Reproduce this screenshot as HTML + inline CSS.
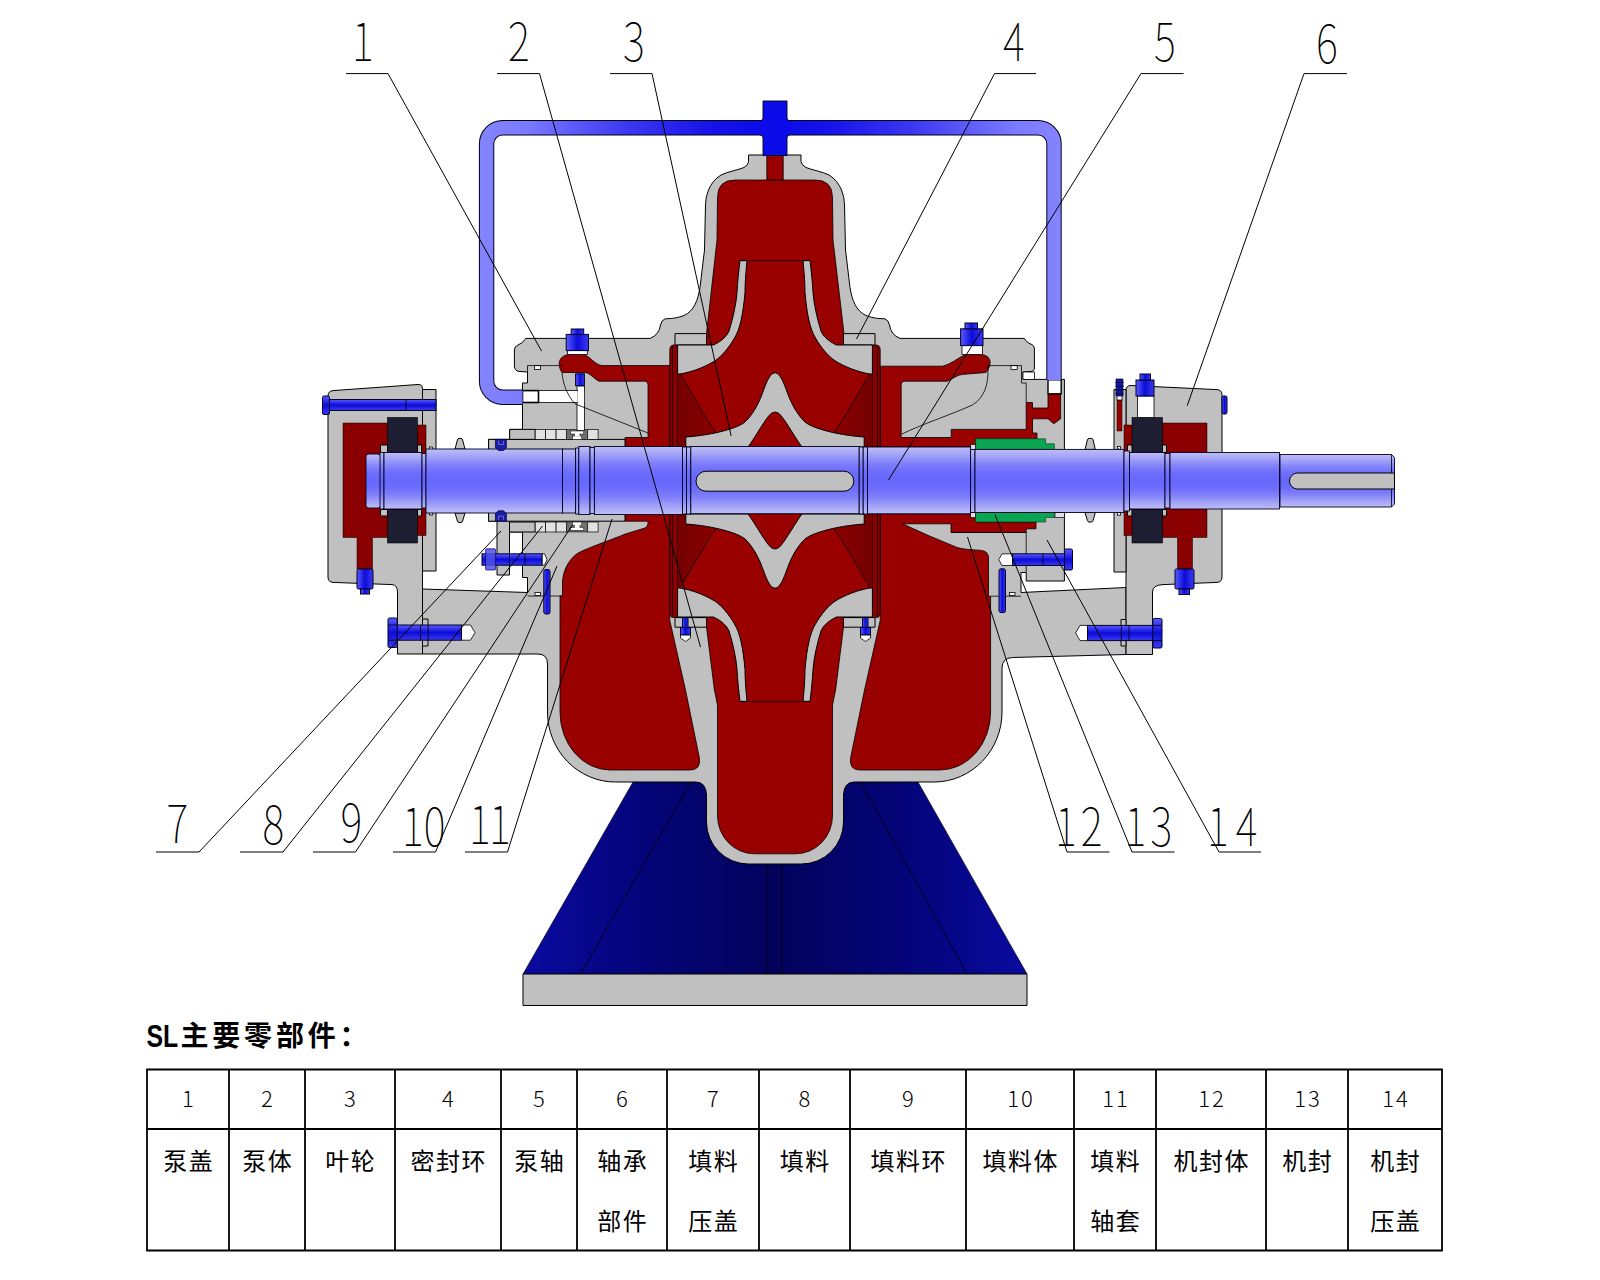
<!DOCTYPE html>
<html lang="zh-CN">
<head>
<meta charset="utf-8">
<title>SL主要零部件</title>
<style>
html,body{margin:0;padding:0;background:#fff;}
body{width:1600px;height:1280px;position:relative;overflow:hidden;font-family:"Liberation Sans","Noto Sans CJK SC",sans-serif;}
svg{position:absolute;left:0;top:0;display:block;}
.g{fill:#c0c0c0;stroke:#000;stroke-width:1;stroke-linejoin:round}
.r{fill:#990000;stroke:#000;stroke-width:.8;stroke-linejoin:round}
.dr{fill:#8e0000;stroke:#000;stroke-width:.8}
.w{fill:#fff;stroke:#000;stroke-width:.8}
.lg{fill:#e2e2e2;stroke:#000;stroke-width:.7}
.k{fill:#1e1e32;stroke:#000;stroke-width:.6}
.b{fill:url(#bolt);stroke:#000028;stroke-width:1}
.bv{fill:url(#boltv);stroke:#000028;stroke-width:1}
.ln{fill:none;stroke:#000;stroke-width:.8}
.ld{fill:none;stroke:#000;stroke-width:1}
.num{font-family:"Noto Sans CJK SC","DejaVu Sans","Liberation Sans",sans-serif;font-weight:100;font-size:52px;fill:#000}
.tn{font-family:"Noto Sans CJK SC","Liberation Sans",sans-serif;font-weight:300;font-size:22px;fill:#000;text-anchor:middle;letter-spacing:2px}
.tc{font-family:"Liberation Sans","Noto Sans CJK SC",sans-serif;font-weight:400;font-size:24px;fill:#000;text-anchor:middle;letter-spacing:1.5px}
.tt{font-family:"Liberation Sans","Noto Sans CJK SC",sans-serif;font-weight:700;font-size:28px;fill:#000;letter-spacing:3.8px}
.tb{stroke:#000;stroke-width:1.8;fill:none}
</style>
</head>
<body>
<svg width="1600" height="1280" viewBox="0 0 1600 1280">
<defs>
<linearGradient id="shaft" x1="0" y1="0" x2="0" y2="1">
<stop offset="0" stop-color="#bebef6"/><stop offset="0.125" stop-color="#a0a0f8"/><stop offset="0.235" stop-color="#8282fa"/><stop offset="0.345" stop-color="#7070fc"/><stop offset="0.46" stop-color="#6868fc"/><stop offset="0.54" stop-color="#6868fc"/><stop offset="0.655" stop-color="#7070fc"/><stop offset="0.765" stop-color="#8282fa"/><stop offset="0.875" stop-color="#a0a0f8"/><stop offset="1" stop-color="#bebef6"/>
</linearGradient>
<linearGradient id="pipe" gradientUnits="userSpaceOnUse" x1="479" y1="0" x2="1061" y2="0">
<stop offset="0" stop-color="#8484ff"/><stop offset=".08" stop-color="#7a7aff"/><stop offset=".26" stop-color="#3a36f0"/><stop offset=".4" stop-color="#1612ea"/><stop offset=".48" stop-color="#0c0cea"/><stop offset=".52" stop-color="#0c0cea"/><stop offset=".6" stop-color="#1612ea"/><stop offset=".74" stop-color="#3a36f0"/><stop offset=".92" stop-color="#7a7aff"/><stop offset="1" stop-color="#8484ff"/>
</linearGradient>
<linearGradient id="base" gradientUnits="userSpaceOnUse" x1="523" y1="0" x2="1027" y2="0">
<stop offset="0" stop-color="#0a0aa0"/><stop offset=".25" stop-color="#040478"/><stop offset=".5" stop-color="#02025c"/><stop offset=".75" stop-color="#040478"/><stop offset="1" stop-color="#0a0aa0"/>
</linearGradient>
<linearGradient id="bolt" x1="0" y1="0" x2="0" y2="1">
<stop offset="0" stop-color="#5a5aff"/><stop offset=".5" stop-color="#0c0cd8"/><stop offset="1" stop-color="#3a3af0"/>
</linearGradient>
<linearGradient id="boltv" x1="0" y1="0" x2="1" y2="0">
<stop offset="0" stop-color="#5a5aff"/><stop offset=".5" stop-color="#0c0cd8"/><stop offset="1" stop-color="#3a3af0"/>
</linearGradient>
<linearGradient id="dred" x1="0" y1="0" x2="1" y2="0">
<stop offset="0" stop-color="#740000"/><stop offset="1" stop-color="#8c0000"/>
</linearGradient>
</defs>
<rect x="0" y="0" width="1600" height="1280" fill="#fff"/>

<!--BASE-->
<g id="basegrp">
<path d="M633 782 L918 782 L1027 974 L523 974 Z" fill="url(#base)" stroke="#000" stroke-width=".6"/>
<path class="ln" d="M690.8 782 L580.5 974 M860.5 782 L967 974 M767.8 864 V974 M781.8 864 V974" stroke-width=".7"/>
<rect class="g" x="523" y="974" width="504" height="31.5"/>
</g>

<!--PUMP-->
<g id="pump">
<!-- ===== grey silhouettes ===== -->
<!-- casing body + covers, upper & lower -->
<path class="g" d="M748.5 155 H801 V161.5 Q801.5 165 806 167.5 C812 170 822 171.5 829 175 C835 178.5 839 184 841.5 190 Q844.5 197 844.5 205 L845.5 250 L850 287.5 C852 300 856 311 866 315.5 C874 318.6 880 318.6 885 318.8 Q888.6 320.4 889.5 325 Q891 335 900 338.4
 H1024.4 Q1026 342 1030 343.8 Q1034.4 345 1034.4 349 V368 Q1034.4 371.5 1030 371.6 L1023 372 V379.4 H1064.4 V581 H1026.2 V572.5 H1021 V592.5 L1126 587.5 V654.5 L1012.5 657.5 Q1002 658 1002 668 V712 A68 70 0 0 1 934.5 782
 H854.4 Q844 782 843.5 795 V822 A42 42 0 0 1 801.5 864 H748.5 A42 42 0 0 1 706.5 822 V795 Q706 782 695.6 782 H615.5 A68 70 0 0 1 547.5 712 V664 Q547.5 654 538 654 H422.5 V589 L527.5 592.5 V577.5 H522.5 V532 H509.5 V575 H497 V521.2 H488.6 V439.4 H509.7 V429.4 H522.5 V383 H527.5 V372 L519 371.4 Q514.4 370.5 514.4 366.2 V350 Q514.4 346.4 518 345 Q523 343.4 525.6 338.4
 H650 Q659 335 660.5 325 Q661.4 320.4 665 318.8 C670 318.6 676 318.6 684 315.5 C694 311 698 300 700 287.5 L704.5 250 L705.5 205 Q705.5 197 708.5 190 C711 184 715 178.5 721 175 C728 171.5 738 170 744 167.5 Q748.5 165 748.5 161.5 Z"/>
<!-- ===== red volumes ===== -->
<!-- top volute + impeller zone upper -->
<path class="r" d="M735 180 H815 Q832.5 180 832.5 197.5 L833 240 L844 333.6 V345 H872.4 V447 H677.6 V345 H706.5 V333.6 L717 240 L717.5 197.5 Q717.5 180 735 180 Z"/>
<!-- top stem -->
<rect class="r" x="766.8" y="155" width="16.4" height="25" stroke-width="1.6"/>
<!-- lower: impeller zone + discharge -->
<path class="r" d="M677.6 513.7 H872.4 V617.6 H843.5 V627 L835.6 690 L832.5 705 V816 A37 38 0 0 1 795.5 853.8 H754.5 A37 38 0 0 1 717.5 816 V705 L714.4 690 L706.5 627 V617.6 H677.6 Z"/>
<!-- left suction chamber -->
<path class="r" d="M625 513.7 H669.8 V620.6 L685.5 690 L699.4 758 Q701 770 690 770 H610 A50 58 0 0 1 560 712 V596 H562.5 V582 C563 570 569 559 578 553 C590 547 608 541 626 533.800 L645 528 Q648 526.5 648 523 V521.2 H625 Z"/>
<!-- right suction chamber -->
<path class="r" d="M880.2 513.7 H975.6 V522 H1036 V528.8 H1026.2 V532.5 H951 V523.8 H902.5 L930 536.2 L957 547.4 Q962 549 968 549.4 L981 550.4 Q988.5 551 988.5 558 V596.2 H990.6 V712 A50.6 58 0 0 1 940 770 H860 Q849 770 850.6 758 L864.5 690 L880.2 620.6 Z"/>
<!-- upper-left passage in cover -->
<path class="r" d="M562 372.5 C556.5 364 559 355 570 354.4 H584 C592 358 594 364 602 365.6 H669.8 V447 H625 V437.5 H648 V384.5 Q648 381.2 644.5 381.2 H599 C593 378 590 373 585 372.5 Z"/>
<!-- upper-right passage in cover -->
<path class="r" d="M986 372.5 C992.5 364 992 355 980 354.4 H966 C957 358 952 364 942.5 366.2 H880.2 V447 H975.6 V438.8 H1037 V433 H1032.5 V418.8 H1048 L1053.8 423.8 L1060.6 418.8 V394 H1048 V408 H1032.5 V402.5 H1026.2 V429.4 H951.2 V437.5 H901.2 V384.5 Q901.2 381.2 904.7 381.2 H947.5 C954 378 957 375 962.5 374.4 Z"/>
<!-- ===== seal-ring strips (dark red) ===== -->
<path class="dr" d="M669.8 350 Q669.8 345 674 345 H677.6 V447 H669.8 Z M669.8 513.7 H677.6 V617.6 H674 Q669.8 617.6 669.8 613 Z M880.2 350 Q880.2 345 876 345 H872.4 V447 H880.2 Z M880.2 513.7 H872.4 V617.6 H876 Q880.2 617.6 880.2 613 Z"/>
<path class="ln" stroke-width=".7" d="M672.4 346 V447 M672.4 513.7 V616.5 M877.6 346 V447 M877.6 513.7 V616.5"/>
<!-- darker eye shading -->
<path id="eyesh" d="M677.6 374 H680 C688 386 704 416 716 433 V447 H677.6 Z" fill="url(#dred)"/>
<use href="#eyesh" transform="translate(1550 0) scale(-1 1)"/>
<use href="#eyesh" transform="translate(0 961.4) scale(1 -1)"/>
<use href="#eyesh" transform="translate(1550 961.4) scale(-1 -1)"/>
<!-- wear rings -->
<rect class="g" x="675" y="333.6" width="31.5" height="11.4"/>
<rect class="g" x="843.5" y="333.6" width="31.5" height="11.4"/>
<rect class="g" x="675" y="617.6" width="31.5" height="9.6"/>
<rect class="g" x="843.5" y="617.6" width="31.5" height="9.6"/>
<!-- ===== impeller ===== -->
<g id="imp">
<path id="shr" class="g" d="M740 260.6 L747 260.6 C745.6 275 745 285 745 292.5 C743 315 740 329 734.5 338 C729 347.5 722 356 715 360.8 C705 367 692 372 680 374 L677.6 374 V345 H713.5 C722 341 727 336 729 331 C733 318 736 305 737 292.5 C737.6 282 738.6 272 740 260.6 Z"/>
<use href="#shr" transform="translate(1550 0) scale(-1 1)"/>
<use href="#shr" transform="translate(0 962) scale(1 -1)"/>
<use href="#shr" transform="translate(1550 962) scale(-1 -1)"/>
<path class="ln" d="M740 260.6 H810 M740 701.4 H810" stroke-width="1"/>
<path id="hub" class="g" d="M685.8 447 V437 C700 436 714 433.6 724 430.8 C734 428 741 425.4 745 422 C752 415.5 757 406.5 760.8 397.5 C765 387 768.5 373.4 775 372.7 C781.5 373.4 785 387 789.200 397.5 C793 406.5 798 415.5 805 422 C809 425.400 816 428 826 430.8 C836 433.6 850 436 864.2 437 V447 H802 C796 439 787 423 781 415.5 Q775 408.5 769 415.5 C763 423 754 439 748 447 Z"/>
<use href="#hub" transform="translate(0 961) scale(1 -1)"/>
</g>
<!-- blade edge thin lines -->
<path class="ln" stroke-width=".8" d="M680 374 C688 386 704 416 716 433 M870 374 C862 386 846 416 834 433 M680 587.400 C688 575.4 704 545.4 716 528.4 M870 587.4 C862 575.4 846 545.4 834 528.4"/>
<!-- ===== bearing housings ===== -->
<g id="lbh">
<path class="g" d="M328 396 Q328 391 333 390.6 L418 384.5 Q422.5 384.4 422.5 388.5 V654 H397.5 V592 Q397.5 585 392 584.6 L333 582.4 Q328 582 328 577 Z"/>
<rect class="g" x="422.5" y="389.5" width="13.5" height="181.5"/>
<rect class="g" x="422.5" y="619" width="5.5" height="27"/>
<path d="M343 423 H387.5 V425 H426 V535.5 H387.5 V537.5 H372.5 V569 H357 V537.5 H343 Z" fill="#8a0000" stroke="#000" stroke-width=".5"/>
<rect class="k" x="387.5" y="417.5" width="30" height="35"/>
<rect class="k" x="387.5" y="509.5" width="30" height="33.5"/>
<path class="g" stroke-width=".5" d="M380.5 445 H387.5 V452.5 H380.5 Z M380.500 509.5 H387.5 V516 H380.5 Z M417.5 445 H421.5 V452.5 H417.5 Z M417.5 509.5 H421.5 V516 H417.5 Z"/>
<rect class="w" stroke-width=".5" x="429.5" y="447" width="3" height="2.6"/>
<rect class="w" stroke-width=".5" x="429.5" y="512.4" width="3" height="2.6"/>
</g>
<g id="rbh">
<path class="g" d="M1126 390.5 Q1126 385.500 1131 385.5 L1217 389.6 Q1222 390 1222 395 V577 Q1222 582 1217 582.4 L1163 584.6 Q1152.500 585 1152.5 592 V654.5 H1126 Z"/>
<rect class="g" x="1114" y="389.5" width="12" height="182.5"/>
<rect class="g" x="1121" y="619.5" width="5" height="26.5"/>
<path d="M1207 423 H1162.5 V425 H1124 V535.5 H1162.5 V537.5 H1177.5 V569 H1192.5 V537.5 H1207 Z" fill="#8a0000" stroke="#000" stroke-width=".5"/>
<rect class="k" x="1132" y="417.5" width="30.5" height="35"/>
<rect class="k" x="1132" y="509.5" width="30.5" height="33.5"/>
<path class="g" stroke-width=".5" d="M1162.500 445 H1166.5 V452.5 H1162.5 Z M1162.5 509.5 H1166.5 V516 H1162.5 Z M1127.5 445 H1132 V452.5 H1127.5 Z M1127.5 509.5 H1132 V516 H1127.5 Z"/>
<rect class="w" x="1137.5" y="396" width="16.5" height="21.5"/>
<rect class="w" stroke-width=".5" x="1117.5" y="446.5" width="3" height="2.6"/>
<rect class="w" stroke-width=".5" x="1117.5" y="512.6" width="3" height="2.6"/>
<path d="M1117 400 H1122 V431 H1117 Z" fill="#990000" stroke="#000" stroke-width=".5"/>
<rect class="w" stroke-width=".5" x="1117" y="395" width="5" height="5"/>
</g>
<!-- slingers -->
<path class="g" stroke-width=".8" d="M455 449 L457.4 440 Q457.800 438.4 459 438.4 H461 Q462.2 438.4 462.600 440 L465 449 Z M455 513 L457.400 521 Q457.8 522.5 459 522.5 H461 Q462.2 522.5 462.6 521 L465 513 Z M1085 449.4 L1087.4 440 Q1087.8 438.4 1089 438.4 H1091.5 Q1092.7 438.4 1093.100 440 L1095.3 449.4 Z M1085 512.5 L1087.4 520.5 Q1087.800 522 1089 522 H1091.5 Q1092.7 522 1093.1 520.5 L1095.3 512.5 Z"/>
<!-- ===== packing / sleeve / seal details ===== -->
<!-- sleeve -->
<rect class="g" x="488.600" y="439.4" width="136.4" height="10"/>
<rect class="g" x="488.6" y="512.5" width="136.4" height="8.7"/>
<!-- packing rows -->
<rect class="g" x="509.7" y="429.4" width="25.5" height="10"/>
<rect class="g" x="509.5" y="522" width="25.7" height="10"/>
<g class="lg">
<rect x="535.2" y="429.400" width="10.4" height="10"/><rect x="545.6" y="429.4" width="10.5" height="10"/><rect x="556.1" y="429.4" width="10.5" height="10"/><rect x="587.7" y="429.4" width="10.4" height="10"/>
<rect x="535.2" y="522" width="10.4" height="10"/><rect x="545.6" y="522" width="10.5" height="10"/><rect x="556.1" y="522" width="10.5" height="10"/><rect x="587.7" y="522" width="10.4" height="10"/>
</g>
<!-- lantern ring -->
<g stroke="#000" stroke-width=".5">
<rect x="566.6" y="429.4" width="21.1" height="10" fill="#707070"/><rect x="570.5" y="431" width="13.2" height="3" fill="#fff"/><rect x="572.5" y="436" width="9.2" height="3.4" fill="#fff"/><rect x="575" y="432.500" width="4.5" height="4" fill="#fff" stroke="none"/>
<rect x="566.6" y="522" width="21.1" height="10" fill="#707070"/><rect x="570.5" y="527.4" width="13.2" height="3" fill="#fff"/><rect x="572.5" y="522" width="9.2" height="3.4" fill="#fff"/><rect x="575" y="524.5" width="4.5" height="4" fill="#fff" stroke="none"/>
</g>
<!-- flush channels in packing body -->
<rect class="w" x="577" y="386" width="7.4" height="44.6"/>
<rect class="w" x="522.5" y="390.6" width="54.9" height="11.9"/>
<rect x="577.3" y="391.2" width="6.8" height="10.7" fill="#fff"/>
<rect x="522.5" y="390.6" width="16" height="11.9" fill="#fff" stroke="#000" stroke-width="1.6"/>
<rect class="w" stroke-width=".5" x="534.4" y="365.6" width="6.2" height="3.8"/>
<rect class="w" stroke-width=".5" x="535" y="592.5" width="5.500" height="3"/>
<rect class="w" stroke-width=".5" x="1009.5" y="592.5" width="5.5" height="3"/>
<rect class="w" stroke-width=".5" x="1011" y="365.6" width="6.2" height="3.8"/>
<!-- right white fitting -->
<rect x="1048" y="379.8" width="13.2" height="14" fill="#fff" stroke="#000" stroke-width="1.4"/>
<rect class="w" stroke="none" x="1023" y="372" width="11.4" height="7.4"/>
<!-- seal body step lines -->
<path class="ln" d="M988 371.2 V365.6 H1021.5 V383 H1026.2 V402.5 M527.5 372 V365.6 H562 M1026.2 532.5 V572.5 M951 532.5 H1026.2 M527.5 596 H562.5 M990.6 596.2 H1021"/>
<!-- decorative casting lines -->
<path class="ln" stroke-width=".9" d="M562 372.5 C563 384 567 395 575 403.8 L648 433 M988 371.2 C988 384 985 397 972.5 405 C950 415 920 425 902 434"/>
<!-- mechanical seal (green) -->
<path d="M975.6 438.8 H1045.6 V443.8 H1054.4 V449.4 H975.6 Z M975.6 522 H1045.6 V517.5 H1054.4 V512.5 H975.6 Z" fill="#0aa550" stroke="#003a18" stroke-width=".6"/>
<rect class="lg" stroke-width=".5" x="970.6" y="444.400" width="5" height="5"/>
<rect class="lg" stroke-width=".5" x="970.6" y="512.5" width="5" height="5"/>
<rect class="lg" stroke-width=".5" x="1055" y="512.5" width="9.4" height="5"/>
<!-- ===== shaft ===== -->
<g id="shaftgrp" fill="url(#shaft)" stroke="#000020" stroke-width=".9">
<rect x="366" y="454" width="14.5" height="54" rx="2.5"/>
<rect x="380" y="452.5" width="4" height="56.5"/>
<rect x="384" y="452.5" width="38" height="56.5"/>
<rect x="422" y="453.5" width="4" height="54.5"/>
<rect x="426" y="449" width="136.5" height="64"/>
<rect x="562.5" y="449" width="13.1" height="64"/>
<rect x="575.6" y="448" width="3.2" height="66"/>
<rect x="578.8" y="446.5" width="11.2" height="68"/>
<rect x="590" y="447.5" width="4.4" height="66"/>
<rect x="594.4" y="446.5" width="88.1" height="68"/>
<rect x="682.5" y="447" width="4" height="67"/>
<rect x="686.500" y="447" width="4.3" height="67"/>
<rect x="690.8" y="446.5" width="168.4" height="67.2"/>
<rect x="859.2" y="447" width="4" height="67"/>
<rect x="863.2" y="447" width="4.3" height="67"/>
<rect x="867.5" y="447" width="103.1" height="66.8"/>
<rect x="970.6" y="449.4" width="4.4" height="63.1"/>
<rect x="975" y="449.4" width="149" height="63.1"/>
<rect x="1124" y="451" width="5.5" height="60"/>
<rect x="1129.5" y="452.5" width="35.5" height="56.5"/>
<rect x="1165" y="453.5" width="5" height="54.5"/>
<rect x="1170" y="452.5" width="109.5" height="56.5"/>
<path d="M1280 454.5 H1391.5 L1394.5 457.500 V504 L1391.5 507 H1280 Z"/>
</g>
<path class="g" stroke-width=".7" d="M706 471.2 H843.800 A10 10 0 0 1 843.8 491.2 H706 A10 10 0 0 1 706 471.2 Z"/>
<path class="g" stroke-width=".7" d="M1394.5 473 H1297.5 A8 8 0 0 0 1297.5 489 H1394.5 Z"/>
<path class="ln" stroke-width=".6" d="M1391.5 454.5 V473 M1391.5 489 V507"/>
<!-- ===== bolts ===== -->
<g id="bolts">
<!-- left housing long bolt -->
<rect class="b" x="322.5" y="396" width="7" height="18.5" rx="1.5"/>
<rect class="b" x="329.5" y="399.5" width="106.5" height="11"/>
<path class="ln" stroke="#00006a" d="M406 399.5 V410.5"/>
<!-- housing drain plugs -->
<rect class="bv" x="357" y="569" width="16" height="20" rx="1.5"/><rect class="bv" x="360.500" y="589" width="9" height="5"/>
<rect class="bv" x="1175" y="569" width="19" height="20" rx="1.5"/><rect class="bv" x="1179" y="589" width="10.5" height="5.5"/>
<!-- right housing top plug -->
<rect class="bv" x="1136" y="380" width="18" height="16"/><rect class="bv" x="1140" y="374" width="10.5" height="6"/>
<rect class="bv" x="1222" y="396" width="5" height="18" rx="1.5"/>
<path fill="#1818a8" stroke="#000028" stroke-width=".7" d="M1116 379 H1123 V396 H1116 Z"/><path stroke="#000028" stroke-width=".9" fill="none" d="M1115.500 382.5 H1123.500 M1115.5 386.200 H1123.5 M1115.5 390 H1123.5 M1115.5 393.600 H1123.5"/>
<!-- foot bolts -->
<path class="w" d="M461.5 625 H470.5 L475 632.6 L470.5 640.2 H461.5 Z"/>
<rect class="b" x="397" y="625" width="64.5" height="15.2"/>
<rect class="b" x="388" y="618" width="9.2" height="29.5" rx="1.5"/>
<path class="ln" stroke="#00006a" d="M420.6 625 V640.2 M428.2 625 V640.2 M388 625 H397 M388 640.200 H397"/>
<path class="w" d="M1087.5 625.4 H1080 L1075.6 633 L1080 640.6 H1087.5 Z"/>
<rect class="b" x="1087.5" y="625.4" width="65.5" height="15.2"/>
<rect class="b" x="1152.8" y="618.5" width="9.2" height="29.500" rx="1.5"/>
<path class="ln" stroke="#00006a" d="M1129 625.4 V640.6 M1121.4 625.4 V640.6 M1153 625.4 H1162 M1153 640.6 H1162"/>
<!-- gland bolts -->
<path class="w" d="M542 553.8 H544.5 L547 559.6 L544.5 565.2 H542 Z"/>
<rect class="b" x="482" y="553.8" width="60" height="11.4"/>
<rect x="485.600" y="548.8" width="10" height="21.2" rx="1" fill="#5050e6" fill-opacity=".85" stroke="#00006a" stroke-width=".7"/>
<path class="ln" stroke="#00006a" d="M525 554 V565.5 M509.5 554 V565.5"/>
<path class="w" d="M1012.5 553.8 H1002 L998.8 559.6 L1002 565.5 H1012.5 Z"/>
<rect class="b" x="1012.5" y="553.8" width="52" height="11.7"/>
<rect class="b" x="1064.5" y="549" width="8" height="21" rx="1.5"/>
<path class="ln" stroke="#00006a" d="M1043 553.8 V565.5"/>
<!-- cover top plugs -->
<rect class="w" x="567.5" y="350.600" width="19.8" height="3.8"/>
<rect class="bv" x="566.2" y="334.4" width="22.3" height="16.2"/><rect class="bv" x="571.2" y="329" width="12.5" height="5.4"/>
<rect class="w" x="962" y="345.6" width="20.5" height="8.8"/>
<rect class="bv" x="960.6" y="328.8" width="22.4" height="16.8"/><rect class="bv" x="965" y="323" width="12.5" height="5.8"/>
<!-- channel plug -->
<rect class="bv" x="575.6" y="373.8" width="8.8" height="11.8"/>
<!-- pins -->
<rect class="bv" x="543.8" y="569.5" width="6.2" height="44.5" rx="2"/>
<rect class="bv" x="999" y="568.8" width="6.5" height="43.800" rx="2"/>
<!-- wear ring screws -->
<path class="w" stroke-width=".5" d="M680.5 634.8 H690.5 V638 L685.5 641.500 L680.5 638 Z M860.5 634.8 H870.5 V638 L865.5 641.5 L860.5 638 Z"/>
<rect class="bv" stroke-width=".5" x="682.5" y="617.6" width="5.5" height="10"/><rect class="bv" stroke-width=".5" x="680.5" y="627.600" width="10" height="7.2"/>
<rect class="bv" stroke-width=".5" x="862.5" y="617.6" width="5.5" height="10"/><rect class="bv" stroke-width=".5" x="860.5" y="627.6" width="10" height="7.2"/>
<!-- sleeve set screws -->
<path fill="#1c1ca6" stroke="#000028" stroke-width=".7" d="M495.4 439.4 H506.4 V447.5 L503.5 450.5 H498.3 L495.4 447.5 Z M495.400 521.2 H506.4 V513.5 L503.500 510.8 H498.3 L495.4 513.5 Z"/><path fill="none" stroke="#9a9af0" stroke-width=".6" d="M498.5 440.8 V444.5 H503.4 V440.8 M498.5 519.8 V516.2 H503.4 V519.8"/>
</g>
</g><!--/pump-->

<!--PIPE-->
<g id="pipegrp">
<path d="M522.5 397.2 H502.6 A16 16 0 0 1 486.6 381.2 V143.8 A16 16 0 0 1 502.6 127.8 H1038 A16 16 0 0 1 1054 143.8 V380" fill="none" stroke="#000018" stroke-width="15.4"/>
<path d="M522.5 397.2 H502.6 A16 16 0 0 1 486.6 381.2 V143.8 A16 16 0 0 1 502.6 127.8 H1038 A16 16 0 0 1 1054 143.8 V380" fill="none" stroke="url(#pipe)" stroke-width="13.4"/>
<path d="M763 101 H787 V118 Q787 120.8 790 120.8 L790 134.8 Q787 134.8 787 138 V155.5 H763 V138 Q763 134.8 760 134.8 L760 120.8 Q763 120.8 763 118 Z" fill="#0c0cea" stroke="#000018" stroke-width=".9"/>
<rect x="758" y="121.300" width="34" height="13" fill="#0c0cea"/>
</g>

<!--LEADERS-->
<g id="leaders" class="ld">
<path d="M346 73.6 H388 L541.5 351 M497 73.6 H539.5 L700.5 647 M610 73.6 H652 L731.2 436 M1036 73.6 H994.5 L856.5 339 M1183.6 73.6 H1141 L888.5 480 M1347 73.6 H1304 L1187.2 405.8 M156 852 H199 L501 531 M240 852 H283 L542.5 526 M313 852 H355.5 L572.5 525 M393 852 H435.5 L557 566 M465 852 H507.5 L612 519 M1109.5 852 H1067 L967.5 537 M1174.5 852 H1132 L995 514.5 M1261 852 H1219 L1047 540"/>
<text class="num" transform="translate(352 60.5) scale(.8 1)" stroke="none">1</text>
<text class="num" transform="translate(508 60.5) scale(.8 1)" stroke="none">2</text>
<text class="num" transform="translate(623 60.5) scale(.8 1)" stroke="none">3</text>
<text class="num" transform="translate(1003 60.5) scale(.8 1)" stroke="none">4</text>
<text class="num" transform="translate(1154 60.5) scale(.8 1)" stroke="none">5</text>
<text class="num" transform="translate(1316 62.5) scale(.8 1)" stroke="none">6</text>
<text class="num" transform="translate(166.5 843) scale(.8 1)" stroke="none">7</text>
<text class="num" transform="translate(262.5 844) scale(.8 1)" stroke="none">8</text>
<text class="num" transform="translate(340.5 842) scale(.8 1)" stroke="none">9</text>
<text class="num" transform="translate(402 846) scale(.8 1)" stroke="none">10</text>
<text class="num" transform="translate(469 844) scale(.8 1)" stroke="none" letter-spacing="-2">11</text>
<text class="num" transform="translate(1055 846) scale(.8 1)" stroke="none" letter-spacing="5">12</text>
<text class="num" transform="translate(1124.5 846) scale(.8 1)" stroke="none" letter-spacing="5.5">13</text>
<text class="num" transform="translate(1207 846) scale(.8 1)" stroke="none" letter-spacing="9">14</text>
</g>

<!--TABLE-->
<g id="tablegrp">
<path class="tb" d="M147 1069.5 H1442 V1250.5 H147 Z M147 1129 H1442 M229 1069.5 V1250.5 M305 1069.5 V1250.5 M395 1069.5 V1250.5 M501 1069.5 V1250.5 M577 1069.5 V1250.5 M667 1069.5 V1250.5 M759 1069.5 V1250.5 M850 1069.5 V1250.5 M966 1069.5 V1250.5 M1074 1069.5 V1250.5 M1156 1069.5 V1250.5 M1266 1069.5 V1250.5 M1348 1069.5 V1250.5"/>
<text class="tn" x="189.0" y="1107">1</text><text class="tc" x="188.7" y="1170">泵盖</text>
<text class="tn" x="268.0" y="1107">2</text><text class="tc" x="267.7" y="1170">泵体</text>
<text class="tn" x="351.0" y="1107">3</text><text class="tc" x="350.7" y="1170">叶轮</text>
<text class="tn" x="449.0" y="1107">4</text><text class="tc" x="448.7" y="1170">密封环</text>
<text class="tn" x="540.0" y="1107">5</text><text class="tc" x="539.7" y="1170">泵轴</text>
<text class="tn" x="623.0" y="1107">6</text><text class="tc" x="622.7" y="1170">轴承</text><text class="tc" x="622.7" y="1230">部件</text>
<text class="tn" x="714.0" y="1107">7</text><text class="tc" x="713.7" y="1170">填料</text><text class="tc" x="713.7" y="1230">压盖</text>
<text class="tn" x="805.5" y="1107">8</text><text class="tc" x="805.2" y="1170">填料</text>
<text class="tn" x="909.0" y="1107">9</text><text class="tc" x="908.7" y="1170">填料环</text>
<text class="tn" x="1021.0" y="1107">10</text><text class="tc" x="1020.7" y="1170">填料体</text>
<text class="tn" x="1116.0" y="1107">11</text><text class="tc" x="1115.7" y="1170">填料</text><text class="tc" x="1115.7" y="1230">轴套</text>
<text class="tn" x="1212.0" y="1107">12</text><text class="tc" x="1211.7" y="1170">机封体</text>
<text class="tn" x="1308.0" y="1107">13</text><text class="tc" x="1307.7" y="1170">机封</text>
<text class="tn" x="1396.0" y="1107">14</text><text class="tc" x="1395.7" y="1170">机封</text><text class="tc" x="1395.7" y="1230">压盖</text>
<text class="tt" transform="translate(146.5 1046.5) scale(.8 1)" style="font-size:31px;letter-spacing:0">SL</text><text class="tt" x="180.5" y="1046">主要零部件：</text>
</g>
</svg>
</body>
</html>
